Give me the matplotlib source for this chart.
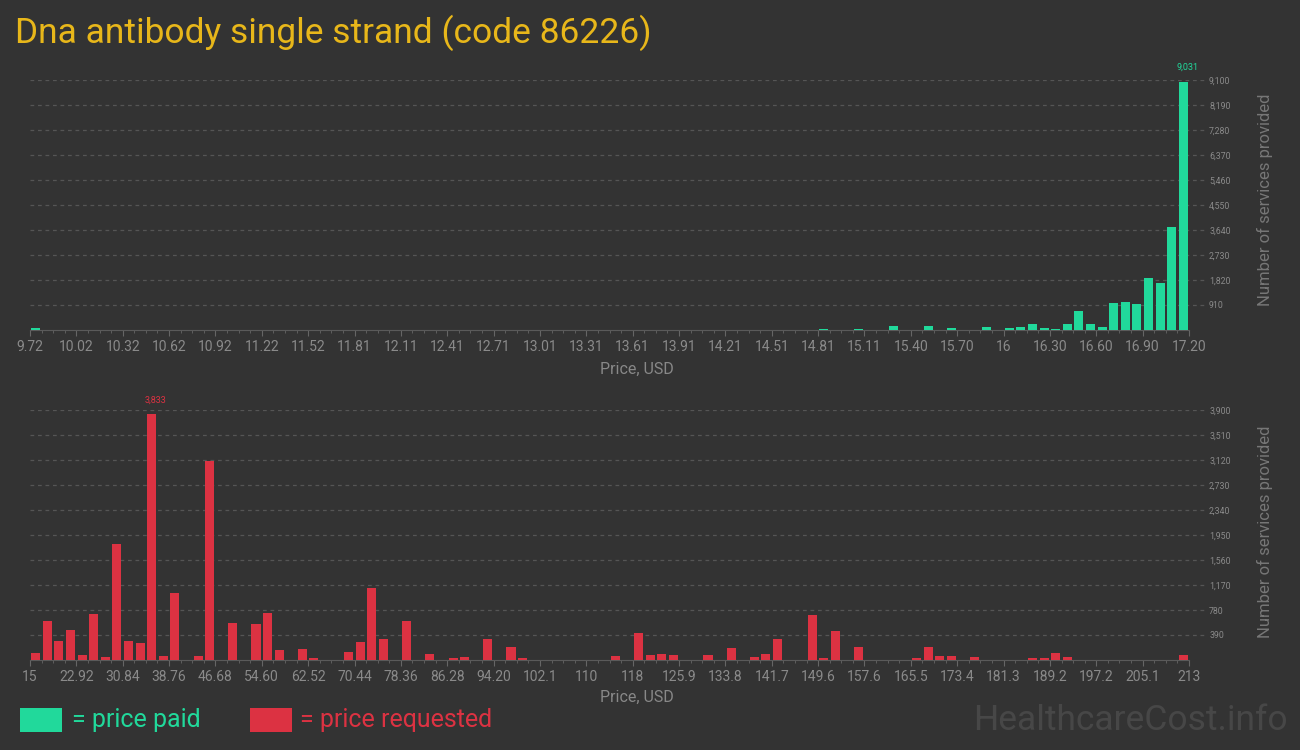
import matplotlib
matplotlib.use("Agg")
import matplotlib.pyplot as plt
from matplotlib.patches import Rectangle
from matplotlib.ticker import FixedLocator

# ---------------- data ----------------
title = "Dna antibody single strand (code 86226)"

paid_tick_labels = ["9.72", "10.02", "10.32", "10.62", "10.92", "11.22", "11.52", "11.81",
                    "12.11", "12.41", "12.71", "13.01", "13.31", "13.61", "13.91", "14.21",
                    "14.51", "14.81", "15.11", "15.40", "15.70", "16", "16.30", "16.60",
                    "16.90", "17.20"]
paid_bins = [0, 68, 71, 74, 77, 79, 82, 84, 85, 86, 87, 88, 89, 90, 91, 92, 93, 94, 95, 96, 97, 98, 99]
paid_counts = [85, 30, 30, 150, 145, 70, 110, 70, 110, 205, 70, 35, 205, 678, 205, 110, 968, 1004,
               932, 1876, 1694, 3763, 9031]
paid_yticks = [910, 1820, 2730, 3640, 4550, 5460, 6370, 7280, 8190, 9100]

req_tick_labels = ["15", "22.92", "30.84", "38.76", "46.68", "54.60", "62.52", "70.44", "78.36",
                   "86.28", "94.20", "102.1", "110", "118", "125.9", "133.8", "141.7", "149.6",
                   "157.6", "165.5", "173.4", "181.3", "189.2", "197.2", "205.1", "213"]
req_bins = [0, 1, 2, 3, 4, 5, 6, 7, 8, 9, 10, 11, 12, 14, 15, 17, 19, 20, 21, 23, 24, 27, 28, 29,
            30, 32, 34, 36, 37, 39, 41, 42, 50, 52, 53, 54, 55, 58, 60, 62, 63, 64, 67, 68, 69,
            71, 76, 77, 78, 79, 81, 86, 87, 88, 89, 99]
req_counts = [104, 602, 291, 462, 73, 711, 42, 1817, 291, 260, 3833, 57, 1038, 57, 3109, 571,
              555, 727, 150, 166, 26, 119, 275, 1131, 322, 602, 88, 26, 42, 322, 197, 26, 57,
              415, 73, 88, 73, 73, 182, 42, 88, 322, 695, 26, 446, 197, 26, 197, 57, 57, 42,
              26, 26, 104, 42, 73]
req_yticks = [390, 780, 1170, 1560, 1950, 2340, 2730, 3120, 3510, 3900]

n_bins = 100
legend_labels = ["= price paid", "= price requested"]

# ---------------- style ----------------
BG = "#333333"
GREEN = "#21d99b"
RED = "#dc3242"
GOLD = "#e8b71a"
TICKC = "#8a8a8a"
GRIDC = "#555555"
FONT = ["Roboto", "DejaVu Sans"]

W, H = 1300, 750
fig = plt.figure(figsize=(13, 7.5), dpi=100, facecolor=BG)

px_per_bin = (1189 - 30) / n_bins
xmax = (1207 - 30) / px_per_bin


def make_axes(top_px, bottom_px, bins, counts, color, yticks, ticklabels):
    ax = fig.add_axes([30 / W, 1 - bottom_px / H, 1177 / W, (bottom_px - top_px) / H])
    ax.set_facecolor(BG)
    ax.bar([b + 0.5 for b in bins], counts, width=0.78, color=color, zorder=3)
    ax.set_xlim(0, xmax)
    ax.set_ylim(0, yticks[-1])
    for s in ["top", "right", "left"]:
        ax.spines[s].set_visible(False)
    ax.spines["bottom"].set_color("#5a5a5a")
    ax.spines["bottom"].set_bounds(0, n_bins)
    ax.xaxis.set_major_locator(FixedLocator(list(range(0, n_bins + 1, 4))))
    ax.xaxis.set_minor_locator(FixedLocator([i for i in range(n_bins + 1) if i % 4]))
    ax.set_xticklabels(ticklabels, family=FONT, fontsize=10, color=TICKC)
    ax.tick_params(axis="x", which="major", length=4, color="#666666", pad=3)
    ax.tick_params(axis="x", which="minor", length=2, color="#666666")
    ax.yaxis.tick_right()
    ax.set_yticks(yticks)
    ax.set_yticklabels([f"{v:,}" for v in yticks], family=FONT, fontsize=6.3, color=TICKC)
    ax.tick_params(axis="y", length=0, pad=1.5)
    ax.grid(axis="y", color=GRIDC, linestyle=(0, (3, 3)), linewidth=0.9, zorder=0)
    imax = counts.index(max(counts))
    ax.annotate(f"{counts[imax]:,}", (bins[imax] + 0.5, counts[imax]), xytext=(3, 7),
                textcoords="offset points", ha="center", va="bottom",
                family=FONT, fontsize=6.5, color=color, annotation_clip=False)
    return ax


ax1 = make_axes(80, 330, paid_bins, paid_counts, GREEN, paid_yticks, paid_tick_labels)
ax2 = make_axes(410, 660, req_bins, req_counts, RED, req_yticks, req_tick_labels)

# axis titles
for yc in (369, 697):
    fig.text(637 / W, 1 - yc / H, "Price, USD", ha="center", va="center",
             family=FONT, fontsize=11.5, color="#888888")
for yc in (200, 532):
    fig.text(1265 / W, 1 - yc / H, "Number of services provided", ha="center", va="center",
             rotation=90, family=FONT, fontsize=12, color="#777777")

# title
fig.text(15 / W, 1 - 33 / H, title, ha="left", va="center", family=FONT,
         fontsize=25.5, color=GOLD)

# legend
fig.patches.append(Rectangle((20 / W, 1 - 732 / H), 42 / W, 24 / H, transform=fig.transFigure,
                             facecolor=GREEN, edgecolor="none"))
fig.text(72 / W, 1 - 720 / H, legend_labels[0], ha="left", va="center", family=FONT,
         fontsize=18, color=GREEN)
fig.patches.append(Rectangle((250 / W, 1 - 732 / H), 42 / W, 24 / H, transform=fig.transFigure,
                             facecolor=RED, edgecolor="none"))
fig.text(300 / W, 1 - 720 / H, legend_labels[1], ha="left", va="center", family=FONT,
         fontsize=18, color=RED)

# watermark
fig.text(1288 / W, 1 - 720 / H, "HealthcareCost.info", ha="right", va="center", family=FONT,
         fontsize=25.5, color="#474747")

fig.savefig("out.png", dpi=100, facecolor=BG)
